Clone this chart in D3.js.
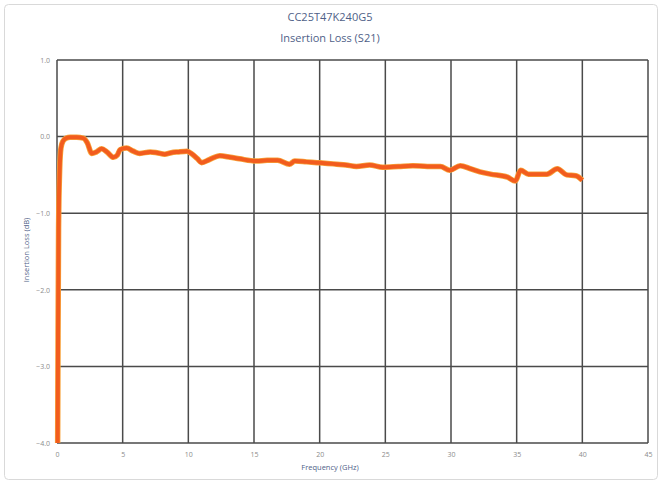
<!DOCTYPE html>
<html>
<head>
<meta charset="utf-8">
<script src="https://cdn.jsdelivr.net/npm/d3@7"></script>
<style>
	body { margin: 0; background: #fff; }
	text { font-family: "Open Sans", "DejaVu Sans", sans-serif; }
</style>
</head>
<body>
<div id="chart"></div>
<script>
// insertion loss trace
const freqs = [0.05, 0.08, 0.12, 0.2, 0.3, 0.45, 0.7, 1.0, 1.5, 2.0, 2.3, 2.65, 3.0, 3.4, 3.8, 4.3, 4.6, 4.8, 5.3, 5.8, 6.3, 7.1, 7.6, 8.2, 8.7, 9.2, 9.9, 10.3, 10.7, 11.0, 11.6, 12.4, 13.2, 13.9, 15.2, 16.0, 16.8, 17.7, 18.1, 19.0, 19.8, 20.6, 21.3, 22.0, 22.8, 23.8, 24.8, 26.0, 27.1, 28.2, 29.2, 29.9, 30.7, 31.5, 32.2, 33.0, 34.3, 34.9, 35.3, 35.9, 36.6, 37.3, 38.1, 38.8, 39.5, 40.0];
const lossDb = [-4.0, -2.6, -1.2, -0.45, -0.15, -0.06, -0.02, -0.01, -0.01, -0.02, -0.08, -0.22, -0.2, -0.16, -0.2, -0.27, -0.24, -0.17, -0.15, -0.19, -0.22, -0.2, -0.21, -0.23, -0.21, -0.2, -0.19, -0.23, -0.29, -0.34, -0.3, -0.25, -0.27, -0.29, -0.32, -0.31, -0.31, -0.36, -0.32, -0.33, -0.34, -0.35, -0.36, -0.37, -0.39, -0.37, -0.4, -0.39, -0.38, -0.39, -0.39, -0.44, -0.38, -0.42, -0.46, -0.49, -0.53, -0.58, -0.44, -0.49, -0.49, -0.49, -0.42, -0.5, -0.51, -0.57];
const xTicks = [0, 5, 10, 15, 20, 25, 30, 35, 40, 45];
const yTicks = [1, 0, -1, -2, -3, -4];
const titleLines = ['CC25T47K240G5', 'Insertion Loss (S21)'];

const width = 662, height = 484;
const margin = { top: 60, right: 14, bottom: 41, left: 57 };

const svg = d3.select('#chart').append('svg')
	.attr('width', width)
	.attr('height', height);

// outer chart border
svg.append('rect')
	.attr('x', 4.5).attr('y', 4.5)
	.attr('width', width - 9).attr('height', height - 9)
	.attr('rx', 4)
	.style('fill', '#fff')
	.style('stroke', '#d9d9d9');

const x = d3.scaleLinear()
	.domain([0, 45])
	.range([margin.left, width - margin.right]);
const y = d3.scaleLinear()
	.domain([-4, 1])
	.range([height - margin.bottom, margin.top]);

// grid
const grid = svg.append('g').attr('class', 'grid');
grid.selectAll('.vline')
	.data(xTicks)
	.enter().append('line')
		.attr('x1', d => x(d)).attr('x2', d => x(d))
		.attr('y1', y(1)).attr('y2', y(-4))
		.style('stroke', '#4a4a4a')
		.style('stroke-width', 1.5);
grid.selectAll('.hline')
	.data(yTicks)
	.enter().append('line')
		.attr('x1', x(0)).attr('x2', x(45))
		.attr('y1', d => y(d)).attr('y2', d => y(d))
		.style('stroke', '#4a4a4a')
		.style('stroke-width', 1.5);

// axes (labels only)
const xAxis = svg.append('g')
	.attr('transform', `translate(0, ${y(-4)})`)
	.call(d3.axisBottom(x).tickValues(xTicks).tickSize(0).tickPadding(9).tickFormat(d3.format('d')));
const yAxis = svg.append('g')
	.attr('transform', `translate(${x(0)}, 0)`)
	.call(d3.axisLeft(y).tickValues(yTicks).tickSize(0).tickPadding(7).tickFormat(d3.format('.1f')));
[xAxis, yAxis].forEach(a => {
	a.select('.domain').remove();
	a.selectAll('text')
		.style('fill', '#8c8c8c')
		.style('font-size', '7px');
});

// trace
const line = d3.line()
	.x((d, i) => x(freqs[i]))
	.y(d => y(d))
	.curve(d3.curveMonotoneX);
svg.append('path')
	.datum(lossDb)
	.attr('d', line)
	.style('fill', 'none')
	.style('stroke', '#f7a23a')
	.style('stroke-width', 5.5)
	.style('stroke-linejoin', 'round');
svg.append('path')
	.datum(lossDb)
	.attr('d', line)
	.style('fill', 'none')
	.style('stroke', '#f25c1e')
	.style('stroke-width', 4)
	.style('stroke-linejoin', 'round');

// titles
svg.selectAll('.title')
	.data(titleLines)
	.enter().append('text')
		.attr('x', 330)
		.attr('y', (d, i) => 21 + i * 21)
		.attr('text-anchor', 'middle')
		.style('font-size', '11px')
		.style('fill', '#4f5f88')
		.text(d => d);

svg.append('text')
	.attr('x', 330)
	.attr('y', 470)
	.attr('text-anchor', 'middle')
	.style('font-size', '7.5px')
	.style('fill', '#4f5f88')
	.text('Frequency (GHz)');

svg.append('text')
	.attr('transform', `translate(29, 250) rotate(-90)`)
	.attr('text-anchor', 'middle')
	.style('font-size', '7.5px')
	.style('fill', '#4f5f88')
	.text('Insertion Loss (dB)');
</script>
</body>
</html>
